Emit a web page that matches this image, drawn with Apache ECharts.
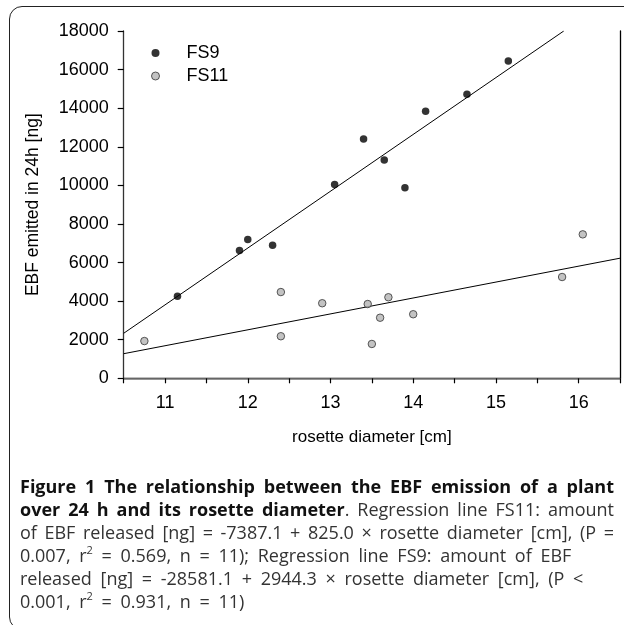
<!DOCTYPE html>
<html>
<head>
<meta charset="utf-8">
<script src="https://cdn.jsdelivr.net/npm/echarts@6/dist/echarts.min.js"></script>
<style>
html,body{margin:0;padding:0;background:#fff;}
#wrap{position:relative;width:624px;height:625px;overflow:hidden;}
#chart{position:absolute;left:0;top:0;width:624px;height:625px;}
#frame{position:absolute;left:9px;top:6px;width:640px;height:624px;border:1.5px solid #222;border-radius:13px;box-sizing:border-box;}
#caption{position:absolute;left:20px;top:475px;width:594px;font-family:"Open Sans","Noto Sans",sans-serif;font-size:18px;line-height:23px;color:#333;}
#caption .j{text-align:justify;text-align-last:justify;}
#caption .l{text-align:left;word-spacing:4px;white-space:nowrap;}
#caption b{color:#111;}
#caption sup{font-size:11px;line-height:0;vertical-align:8px;}
</style>
</head>
<body>
<div id="wrap">
<div id="frame"></div>
<div id="chart"></div>
<div id="caption">
<div class="j"><b>Figure 1 The relationship between the EBF emission of a plant</b></div>
<div class="j"><b>over 24 h and its rosette diameter</b>. Regression line FS11: amount</div>
<div class="j">of EBF released [ng] = -7387.1 + 825.0 × rosette diameter [cm], (P =</div>
<div class="l">0.007, r<sup>2</sup> = 0.569, n = 11); Regression line FS9: amount of EBF</div>
<div class="l">released [ng] = -28581.1 + 2944.3 × rosette diameter [cm], (P &lt;</div>
<div class="l">0.001, r<sup>2</sup> = 0.931, n = 11)</div>
</div>
</div>
<script>
const seriesNames = ['FS9', 'FS11'];
const fs9X = [11.15, 11.9, 12.0, 12.3, 13.05, 13.4, 13.65, 13.9, 14.15, 14.65, 15.15];
const fs9Y = [4250, 6620, 7200, 6900, 10050, 12400, 11320, 9880, 13840, 14720, 16450];
const fs11X = [10.75, 12.4, 12.4, 12.9, 13.45, 13.5, 13.6, 13.7, 14.0, 15.8, 16.05];
const fs11Y = [1930, 4470, 2180, 3890, 3850, 1780, 3140, 4200, 3320, 5250, 7460];
const fs9LineX = [10.5, 15.82];
const fs9LineY = [2334, 18000];
const fs11LineX = [10.5, 16.5];
const fs11LineY = [1275, 6225];
const xTicks = [11, 12, 13, 14, 15, 16];
const yTicks = [0, 2000, 4000, 6000, 8000, 10000, 12000, 14000, 16000, 18000];

const zip = (a, b) => a.map((v, i) => [v, b[i]]);
const chart = echarts.init(document.getElementById('chart'));
const font = '"Liberation Sans", Arial, sans-serif';
chart.setOption({
  animation: false,
  grid: {left: 123.7, right: 4, top: 31, bottom: 246.7},
  legend: {
    orient: 'vertical', left: 146, top: 39, itemWidth: 8, itemHeight: 8, itemGap: 5,
    data: [
      {name: seriesNames[0], icon: 'circle', itemStyle: {color: '#000', borderWidth: 0}},
      {name: seriesNames[1], icon: 'circle', itemStyle: {color: '#b4b4b4', borderColor: '#333', borderWidth: 1}}
    ],
    formatter: n => '{p|}' + n,
    textStyle: {fontFamily: font, fontSize: 18, color: '#000', rich: {p: {width: 22}}}
  },
  xAxis: [{
    type: 'value', min: 10.5, max: 16.5, interval: 0.5,
    axisLine: {show: true, onZero: false, lineStyle: {color: '#000', width: 1.3}},
    axisTick: {show: true, length: 5, lineStyle: {color: '#000', width: 1.2}},
    splitLine: {show: false},
    axisLabel: {fontFamily: font, fontSize: 18, color: '#000', margin: 16,
      formatter: v => xTicks.includes(v) ? String(v) : ''},
    name: 'rosette diameter [cm]', nameLocation: 'middle', nameGap: 51,
    nameTextStyle: {fontFamily: font, fontSize: 17, color: '#000'}
  }, {
    type: 'value', min: 10.5, max: 16.5, position: 'top',
    axisLine: {show: true, lineStyle: {color: '#888', width: 1.5}},
    axisTick: {show: false}, axisLabel: {show: false}, splitLine: {show: false}
  }],
  yAxis: [{
    type: 'value', min: 0, max: 18000, interval: 2000,
    axisLine: {show: true, onZero: false, lineStyle: {color: '#333', width: 1.3}},
    axisTick: {show: true, length: 6, lineStyle: {color: '#000', width: 1.2}},
    splitLine: {show: false},
    axisLabel: {fontFamily: font, fontSize: 18, color: '#000', margin: 15,
      formatter: v => yTicks.includes(v) ? String(v) : ''},
    name: 'EBF emitted in 24h [ng]', nameLocation: 'middle', nameGap: 82,
    nameTextStyle: {fontFamily: font, fontSize: 17.5, color: '#000'}
  }, {
    type: 'value', min: 0, max: 18000, position: 'right',
    axisLine: {show: true, lineStyle: {color: '#000', width: 1.3}},
    axisTick: {show: false}, axisLabel: {show: false}, splitLine: {show: false}
  }],
  series: [
    {name: seriesNames[0], type: 'scatter', data: zip(fs9X, fs9Y), symbolSize: 7.5,
      itemStyle: {color: '#000'}, z: 5},
    {name: seriesNames[1], type: 'scatter', data: zip(fs11X, fs11Y), symbolSize: 7.5,
      itemStyle: {color: '#b4b4b4', borderColor: '#333', borderWidth: 1}, z: 5},
    {type: 'line', data: zip(fs9LineX, fs9LineY), symbol: 'none', silent: true,
      lineStyle: {color: '#000', width: 1}, z: 3},
    {type: 'line', data: zip(fs11LineX, fs11LineY), symbol: 'none', silent: true,
      lineStyle: {color: '#000', width: 1}, z: 3}
  ]
});
</script>
</body>
</html>
